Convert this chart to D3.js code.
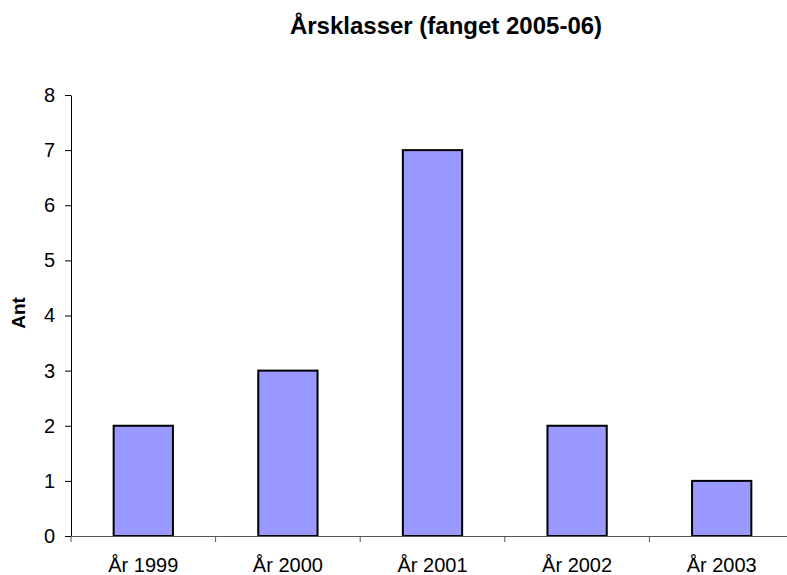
<!DOCTYPE html>
<html><head><meta charset="utf-8">
<script src="https://cdn.jsdelivr.net/npm/d3@7/dist/d3.min.js"></script>
<style>body{margin:0;background:#fff}svg{display:block}text{font-family:"Liberation Sans",Arial,sans-serif}</style>
</head><body>
<svg id="c" width="787" height="575"></svg>
<script>
const categories = ["År 1999","År 2000","År 2001","År 2002","År 2003"];
const values = [2,3,7,2,1];
const yTicks = [0,1,2,3,4,5,6,7,8];
const title = "Årsklasser (fanget 2005-06)";
const yTitle = "Ant";

const svg = d3.select("#c");
const mLeft = 71, mRight = 794, mTop = 95, mBottom = 536;
const x = d3.scaleBand().domain(categories).range([mLeft, mRight]).paddingInner(0).paddingOuter(0);
const y = d3.scaleLinear().domain([0,8]).range([mBottom, mTop]);

svg.append("text").attr("x", 446).attr("y", 34).attr("text-anchor","middle")
  .attr("font-size", 24).attr("font-weight","bold").text(title);

svg.append("text").attr("transform", `translate(25,${313}) rotate(-90)`)
  .attr("text-anchor","middle").attr("font-size",19).attr("font-weight","bold").text(yTitle);

// bars
const bw = x.bandwidth()*0.41;
svg.selectAll("rect.bar").data(values).enter().append("rect")
  .attr("x",(d,i)=>x(categories[i]) + x.bandwidth()/2 - bw/2)
  .attr("y",d=>y(d)).attr("width",bw).attr("height",d=>y(0)-y(d))
  .attr("fill","#9999FF").attr("stroke","#000").attr("stroke-width",2);

// y axis
const ya = svg.append("g").attr("transform",`translate(${mLeft},0)`)
  .call(d3.axisLeft(y).tickValues(yTicks).tickSize(6).tickPadding(10).tickSizeOuter(0));
ya.select(".domain").attr("stroke","#000");
ya.selectAll(".tick line").attr("stroke","#000");
ya.selectAll(".tick text").attr("font-size",20).attr("fill","#000").attr("font-family","Liberation Sans, Arial, sans-serif");

// x axis
const xa = svg.append("g").attr("transform",`translate(0,${mBottom})`)
  .call(d3.axisBottom(x).tickSize(0).tickPadding(22).tickSizeOuter(0));
xa.select(".domain").attr("stroke","#555");
xa.selectAll(".tick text").attr("font-size",20).attr("fill","#000").attr("font-family","Liberation Sans, Arial, sans-serif");
// boundary ticks
const bounds = categories.map(c=>x(c)).concat([mRight]);
svg.append("g").selectAll("line").data(bounds).enter().append("line")
  .attr("x1",d=>d).attr("x2",d=>d).attr("y1",mBottom).attr("y2",mBottom+6)
  .attr("stroke","#555");
</script>
</body></html>
